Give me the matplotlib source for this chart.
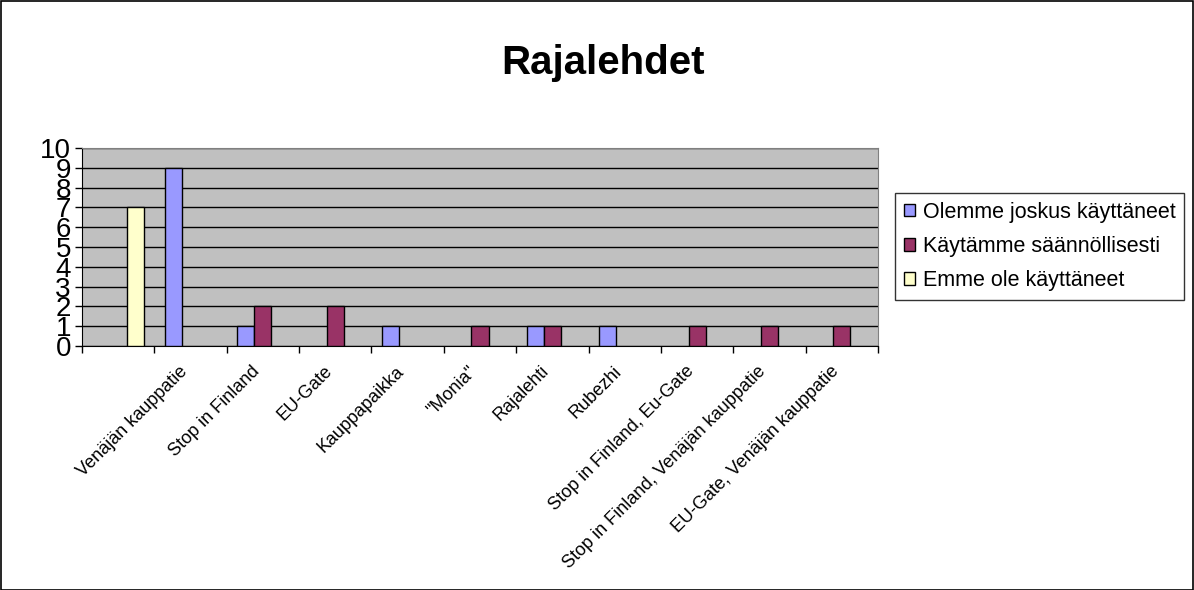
import matplotlib
matplotlib.use("Agg")
import matplotlib.pyplot as plt
import numpy as np
from matplotlib.patches import Rectangle

plt.rcParams['font.family'] = ['Liberation Sans', 'DejaVu Sans']

categories = ["", "Venäjän kauppatie", "Stop in Finland", "EU-Gate", "Kauppapaikka",
              "\"Monia\"", "Rajalehti", "Rubezhi", "Stop in Finland, Eu-Gate",
              "Stop in Finland, Venäjän kauppatie", "EU-Gate, Venäjän kauppatie"]
olemme = [0, 9, 1, 0, 1, 0, 1, 1, 0, 0, 0]
kaytamme = [0, 0, 2, 2, 0, 1, 1, 0, 1, 1, 1]
emme = [7, 0, 0, 0, 0, 0, 0, 0, 0, 0, 0]
series_names = ["Olemme joskus käyttäneet", "Käytämme säännöllisesti", "Emme ole käyttäneet"]
colors = ["#9999FF", "#993366", "#FFFFCC"]

W, H = 1194, 590
fig = plt.figure(figsize=(W / 100, H / 100), dpi=100)
fig.patch.set_facecolor("white")
fig.patches.append(Rectangle((0.5 / W, 0.5 / H), 1 - 1.5 / W, 1 - 1.5 / H, transform=fig.transFigure,
                             fill=False, edgecolor="black", linewidth=1.2))

x0, x1, y0, y1 = 82, 878, 148, 346
ax = fig.add_axes([x0 / W, 1 - y1 / H, (x1 - x0) / W, (y1 - y0) / H])
ax.set_facecolor("#C0C0C0")

n = len(categories)
x = np.arange(n)
bw = 0.235
for i, (vals, name, c) in enumerate(zip([olemme, kaytamme, emme], series_names, colors)):
    v = np.array(vals, dtype=float)
    nz = v > 0
    ax.bar(x[nz] + (i - 1) * bw, v[nz], width=bw, color=c, edgecolor="black", linewidth=1.0,
           label=name, zorder=3)

ax.set_xlim(-0.5, n - 0.5)
ax.set_ylim(0, 10)
ax.set_yticks(range(0, 11))
ax.yaxis.grid(True, color="black", linewidth=1.0, zorder=1)
ax.tick_params(axis="y", labelsize=20, length=5, width=1, direction="out", pad=3)

ax.set_xticks(np.arange(-0.5, n, 1.0), minor=False)
ax.set_xticklabels([])
ax.set_xticks(x, minor=True)
ax.set_xticklabels(categories, minor=True, rotation=45, ha="right", va="top",
                   rotation_mode="default", fontsize=13)
ax.tick_params(axis="x", which="major", length=5, width=1, direction="out")
ax.tick_params(axis="x", which="minor", length=0, pad=12)

for s in ["top", "right"]:
    ax.spines[s].set_color("#808080")
ax.spines["left"].set_color("black")
ax.spines["bottom"].set_color("black")

fig.text(603 / W, 1 - 63 / H, "Rajalehdet", ha="center", va="center", fontsize=29, fontweight="bold")

leg = ax.legend(loc="upper left", bbox_to_anchor=(895 / W, 1 - 193 / H), bbox_transform=fig.transFigure,
                frameon=True, fancybox=False, edgecolor="black", fontsize=15.5,
                handlelength=0.55, handleheight=0.55, handletextpad=0.35, labelspacing=0.62,
                borderpad=0.4, borderaxespad=0)
leg.get_frame().set_linewidth(1.0)

fig.savefig("out.png", dpi=100)
